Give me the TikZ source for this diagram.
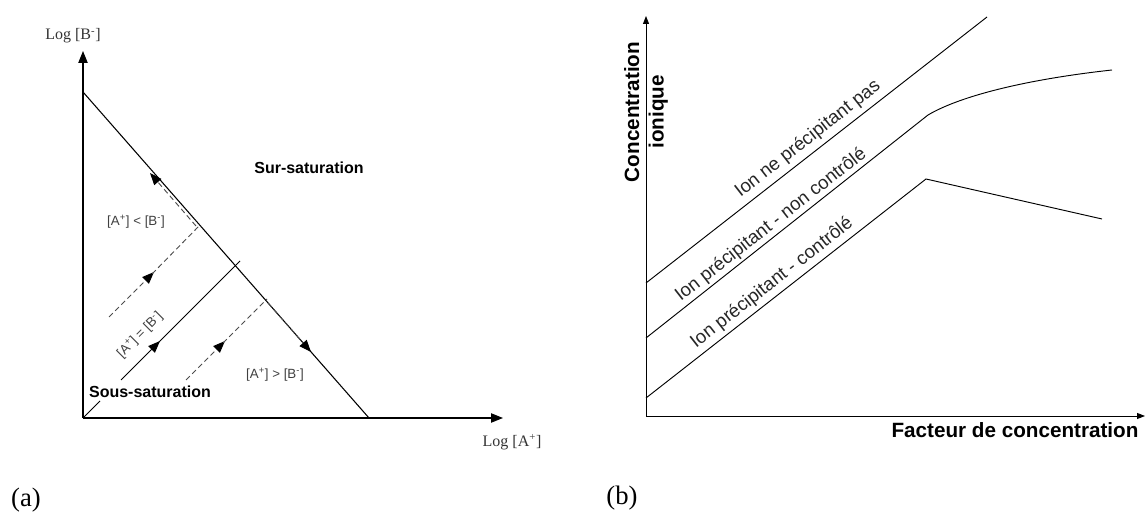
\documentclass[tikz,border=0pt]{standalone}
\usepackage{fontspec}
\setmainfont{Liberation Sans}
\newfontfamily\timesf{Liberation Serif}
\usetikzlibrary{arrows.meta}

\begin{document}
\begin{tikzpicture}[x=0.75pt,y=0.75pt,
  axis/.style={line width=0.8pt,-{Triangle[length=9pt,width=7pt]}},
  axisb/.style={line width=0.7pt,-{Triangle[length=6pt,width=4.5pt]}},
  guide/.style={dash pattern=on 4pt off 2.5pt,black!70,line width=0.7pt},
  tip/.style={-{Triangle[length=9pt,width=7pt,black]}},
  lbl/.style={text=black!75,font=\fontsize{10}{12}\selectfont},
  zone/.style={font=\bfseries\fontsize{12}{14}\selectfont},
  ionl/.style={text=black!85,font=\fontsize{14}{16}\selectfont,rotate=38},
  serifl/.style={text=black!80,font=\timesf\fontsize{12}{14}\selectfont}]
\useasboundingbox (0,0) rectangle (1145,513);

% ----- (a) -----
\coordinate (O) at (83,95);
\coordinate (H1) at (83,421);
\coordinate (H2) at (369,95);
\draw[axis] (O) -- (83,462); % y axis
\draw[axis] (O) -- (503,95); % x axis
\node[serifl] (logB) at (73,477) {Log [B\textsuperscript{-}]};
\node[serifl] (logA) at (512,71) {Log [A\textsuperscript{+}]};
\draw[line width=0.8pt] (H1) -- (H2); % saturation

% [A+] = [B-]
\draw[line width=0.7pt] (O) -- (100,112);
\draw[line width=0.7pt,tip] (121,133) -- (160,172);
\draw[line width=0.7pt] (158,170) -- (240,252);

% upper path
\draw[guide,tip] (109,196) -- (154,241);
\draw[guide] (152,239) -- (200,288);
\draw[guide,tip] (196,287) -- (150,340);

% lower path
\draw[guide,tip] (186,133) -- (225,172);
\draw[guide] (223,170) -- (267,214);
\draw[guide,tip] (268,210) -- (311,161);

\node[zone] (sur) at (309,345) {Sur-saturation};
\node[zone] (sous) at (150,121) {Sous-saturation};
\node[lbl] (lt) at (136,291) {[A\textsuperscript{+}] < [B\textsuperscript{-}]};
\node[lbl] (gt) at (275,138) {[A\textsuperscript{+}] > [B\textsuperscript{-}]};
\node[lbl,rotate=45] (eq) at (140,178) {[A\textsuperscript{+}] = [B\textsuperscript{-}]};
\node[font=\timesf\fontsize{20}{24}\selectfont] (pa) at (26,13) {(a)};

% ----- (b) -----
\coordinate (P) at (646,97);
\draw[axisb] (P) -- (646,497); % y axis
\draw[axisb] (P) -- (1145,97); % x axis
\draw[line width=0.7pt] (646,230) -- (987,496);
\draw[line width=0.7pt] (646,175) -- (928,398) .. controls (962,418) and (1030,434) .. (1112,443);
\draw[line width=0.7pt] (646,115) -- (926,334) -- (1102,294);
\node[ionl] (nopr) at (808,374) {Ion ne précipitant pas};
\node[ionl] (prnc) at (771,288) {Ion précipitant - non contrôlé};
\node[ionl] (prc) at (772,230) {Ion précipitant - contrôlé};
\node[font=\bfseries\fontsize{15.5}{18.5}\selectfont,rotate=90,align=center] (conc) at (646,401) {Concentration\\ionique};
\node[font=\bfseries\fontsize{15.5}{18.5}\selectfont] (fact) at (1015,83) {Facteur de concentration};
\node[font=\timesf\fontsize{20}{24}\selectfont] (pb) at (622,15) {(b)};
\end{tikzpicture}
\end{document}
